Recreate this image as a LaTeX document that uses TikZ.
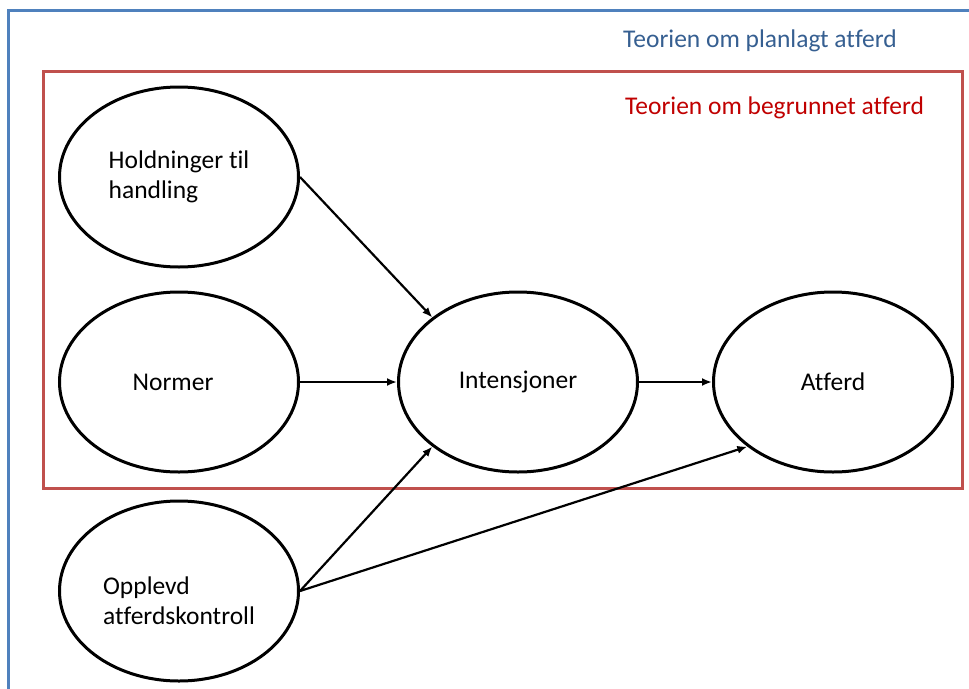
\documentclass[tikz,border=0pt]{standalone}
\usepackage{fontspec}
\setmainfont{Carlito}[Ligatures=NoCommon]
\usetikzlibrary{shapes.geometric,arrows.meta}

\definecolor{planblue}{RGB}{79,129,189}
\definecolor{plantext}{RGB}{54,95,145}
\definecolor{begred}{RGB}{192,80,77}
\definecolor{begtext}{RGB}{192,0,0}

\begin{document}
\begin{tikzpicture}[x=1pt, y=-1pt,
    every node/.style={font=\fontsize{25.5}{29.5}\selectfont},
    oval/.style={ellipse, draw, line width=3pt,
      minimum width=239pt, minimum height=180pt, inner sep=0pt, align=left},
    title/.style={inner sep=0pt, anchor=west},
    arr/.style={-{Latex[length=10pt,width=8pt]}, line width=2.2pt}]
  \useasboundingbox (0,0) rectangle (969,688);
  \clip (0,0) rectangle (969,688);
  % the two theories
  \draw[planblue, line width=3pt] (8,10) rectangle (990,710);
  \draw[begred, line width=3pt] (43,71) rectangle (962,488);
  \node[title, text=plantext] (plan) at (623,41) {Teorien om planlagt atferd};
  \node[title, text=begtext] (begr) at (625,108) {Teorien om begrunnet atferd};
  % factors
  \node[oval] (hold) at (179,177) {Holdninger til\\handling};
  \node[oval] (norm) at (179,382) {Normer\hspace{12pt}};
  \node[oval] (int) at (518,382) {Intensjoner};
  \node[oval] (atf) at (833,382) {Atferd};
  \node[oval] (opp) at (179,591) {\rule{0pt}{37pt}Opplevd\\atferdskontroll};
  % influences
  \draw[arr] (hold.east) -- (int.143);
  \draw[arr] (norm.east) -- (int.west);
  \draw[arr] (int.east) -- (atf.west);
  \draw[arr] (opp.east) -- (int.217);
  \draw[arr] (opp.east) -- (atf.217);
\end{tikzpicture}
\end{document}
